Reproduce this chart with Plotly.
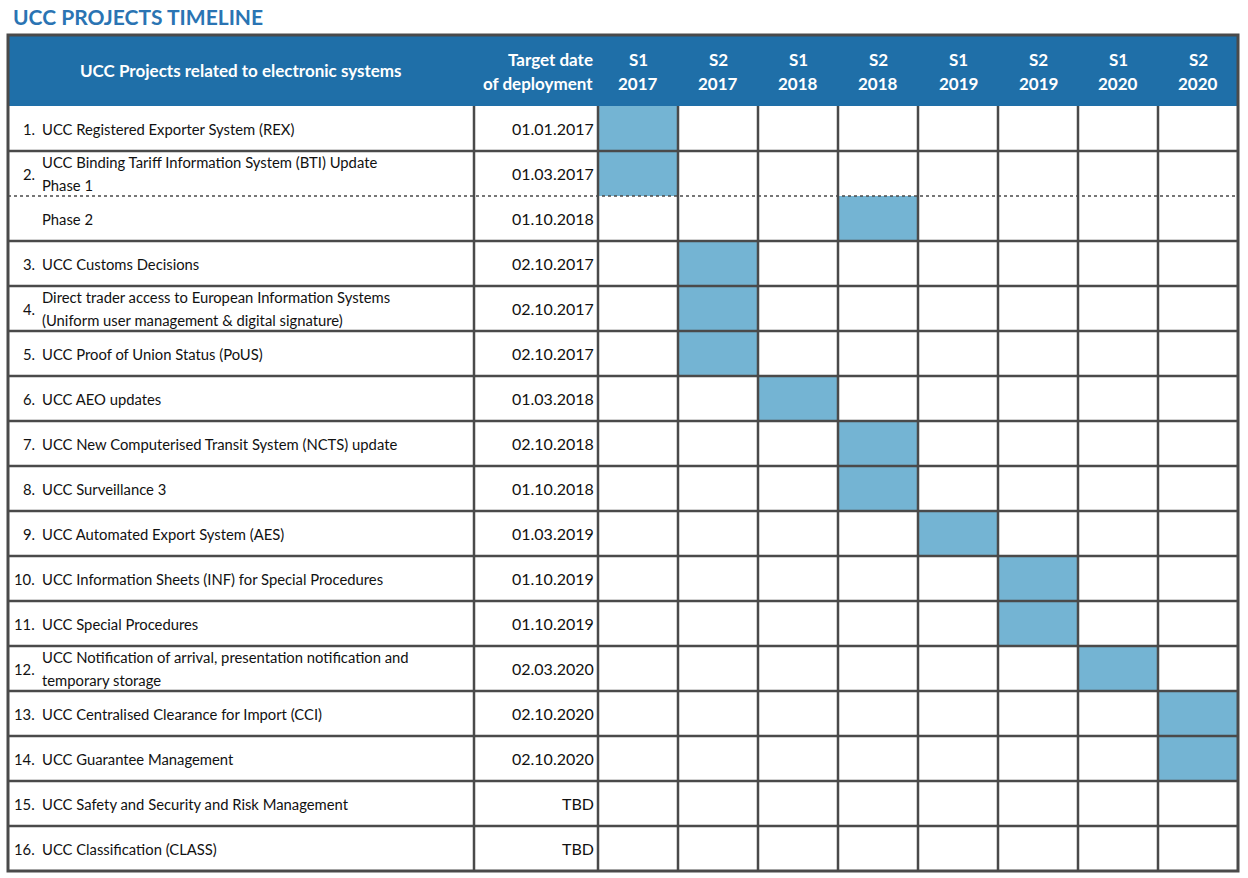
import plotly.graph_objects as go

# ---------------- data ----------------
periods = ["S1<br>2017", "S2<br>2017", "S1<br>2018", "S2<br>2018",
           "S1<br>2019", "S2<br>2019", "S1<br>2020", "S2<br>2020"]
numbers = ["1.", "2.", "", "3.", "4.", "5.", "6.", "7.", "8.", "9.",
           "10.", "11.", "12.", "13.", "14.", "15.", "16."]
projects = [
    ["UCC Registered Exporter System (REX)"],
    ["UCC Binding Tariff Information System (BTI) Update", "Phase 1"],
    ["Phase 2"],
    ["UCC Customs Decisions"],
    ["Direct trader access to European Information Systems",
     "(Uniform user management & digital signature)"],
    ["UCC Proof of Union Status (PoUS)"],
    ["UCC AEO updates"],
    ["UCC New Computerised Transit System (NCTS) update"],
    ["UCC Surveillance 3"],
    ["UCC Automated Export System (AES)"],
    ["UCC Information Sheets (INF) for Special Procedures"],
    ["UCC Special Procedures"],
    ["UCC Notification of arrival, presentation notification and",
     "temporary storage"],
    ["UCC Centralised Clearance for Import (CCI)"],
    ["UCC Guarantee Management"],
    ["UCC Safety and Security and Risk Management"],
    ["UCC Classification (CLASS)"],
]
target_dates = ["01.01.2017", "01.03.2017", "01.10.2018", "02.10.2017",
                "02.10.2017", "02.10.2017", "01.03.2018", "02.10.2018",
                "01.10.2018", "01.03.2019", "01.10.2019", "01.10.2019",
                "02.03.2020", "02.10.2020", "02.10.2020", "TBD", "TBD"]
# index of the semester in which each project is deployed (None = TBD)
deploy_period = [0, 0, 3, 1, 1, 1, 2, 3, 3, 4, 5, 5, 6, 7, 7, None, None]

# ---------------- layout constants ----------------
W, H = 1248, 878
LEFT, RIGHT = 8, 1238
TOP, HEAD_BOTTOM = 35, 106
ROW_H = 45
COL1_R, COL2_R = 474, 598
PER_W = 80
n_rows = len(projects)
BOTTOM = HEAD_BOTTOM + ROW_H * n_rows

BLUE = "#1f6fa8"
FILL = "#74b4d3"
GRID = "#4a4a4a"
TXT = "#111111"
FONT = "Lato"

row_centers = [HEAD_BOTTOM + ROW_H * (i + 0.5) for i in range(n_rows)]
col_centers = [COL2_R + PER_W * (k + 0.5) for k in range(len(periods))]

z = [[1 if deploy_period[i] == k else None for k in range(len(periods))]
     for i in range(n_rows)]

fig = go.Figure()
fig.add_trace(go.Heatmap(
    x=col_centers, y=row_centers, z=z,
    colorscale=[[0, FILL], [1, FILL]], showscale=False,
    hoverinfo="skip", zmin=0, zmax=1,
))

shapes = []
# header background
shapes.append(dict(type="rect", xref="x", yref="y", x0=LEFT, x1=RIGHT,
                   y0=TOP, y1=HEAD_BOTTOM, fillcolor=BLUE, line_width=0,
                   layer="below"))
# horizontal lines
for i in range(1, n_rows):
    y = HEAD_BOTTOM + ROW_H * i
    dotted = (i == 2)
    shapes.append(dict(type="line", xref="x", yref="y", x0=LEFT, x1=RIGHT,
                       y0=y, y1=y,
                       line=dict(color=GRID, width=1.5 if dotted else 2.5,
                                 dash="dot" if dotted else "solid")))
# vertical lines
for x in [COL1_R, COL2_R] + [COL2_R + PER_W * k for k in range(1, len(periods))]:
    shapes.append(dict(type="line", xref="x", yref="y", x0=x, x1=x,
                       y0=HEAD_BOTTOM, y1=BOTTOM,
                       line=dict(color=GRID, width=2.5)))
# outer border
shapes.append(dict(type="rect", xref="x", yref="y", x0=LEFT, x1=RIGHT,
                   y0=TOP, y1=BOTTOM, line=dict(color=GRID, width=3)))

ann = []
# title
ann.append(dict(text="<b>UCC PROJECTS TIMELINE</b>", x=11, y=16,
                xanchor="left", yanchor="middle", showarrow=False,
                font=dict(family=FONT, size=21, color="#2a74b3")))
# header texts
HF = 17
ann.append(dict(text="<b>UCC Projects related to electronic systems</b>",
                x=(LEFT + COL1_R) / 2, y=70.5, xanchor="center",
                yanchor="middle", showarrow=False,
                font=dict(family=FONT, size=HF, color="white")))
for j, line in enumerate(["Target date", "of deployment"]):
    ann.append(dict(text=f"<b>{line}</b>", x=COL2_R - 3, y=59 + 24 * j,
                    xanchor="right", yanchor="middle", showarrow=False,
                    font=dict(family=FONT, size=HF, color="white")))
for k, p in enumerate(periods):
    for j, line in enumerate(p.split("<br>")):
        ann.append(dict(text=f"<b>{line}</b>", x=col_centers[k],
                        y=59 + 24 * j, xanchor="center", yanchor="middle",
                        showarrow=False,
                        font=dict(family=FONT, size=HF, color="white")))
# rows
RF = 14.8
for i in range(n_rows):
    yc = row_centers[i]
    if numbers[i]:
        ann.append(dict(text=numbers[i], x=37, y=yc, xanchor="right",
                        yanchor="middle", showarrow=False,
                        font=dict(family=FONT, size=RF, color=TXT)))
    lines = projects[i]
    nl = len(lines)
    for j, line in enumerate(lines):
        y = yc + (j - (nl - 1) / 2) * 23
        ann.append(dict(text=line, x=40, y=y, xanchor="left",
                        yanchor="middle", showarrow=False,
                        font=dict(family=FONT, size=RF, color=TXT)))
    ann.append(dict(text=target_dates[i], x=COL2_R - 2, y=yc,
                    xanchor="right", yanchor="middle", showarrow=False,
                    font=dict(family=FONT, size=16, color=TXT)))

fig.update_layout(
    width=W, height=H, margin=dict(l=0, r=0, t=0, b=0),
    paper_bgcolor="white", plot_bgcolor="white",
    xaxis=dict(range=[0, W], visible=False, fixedrange=True),
    yaxis=dict(range=[H, 0], visible=False, fixedrange=True),
    shapes=shapes, annotations=ann, showlegend=False,
)
fig.write_html("out.html", config={"displayModeBar": False},
               post_script="document.body.style.margin='0';"
                           "document.body.style.overflow='hidden';")
